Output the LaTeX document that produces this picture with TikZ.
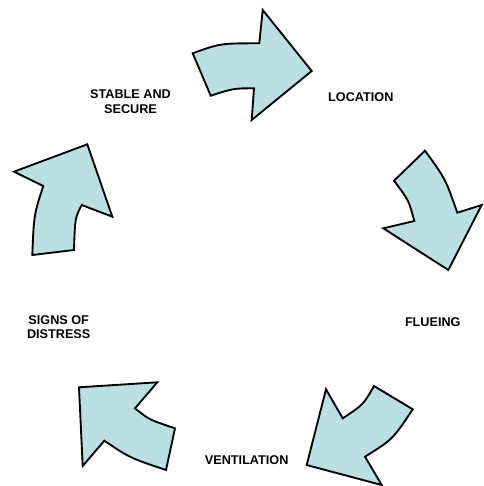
\documentclass[tikz,border=0pt]{standalone}
\usepackage{fontspec}
\setmainfont{Liberation Sans}
\usetikzlibrary{positioning}
\definecolor{cycleFill}{HTML}{BBE0E3}

\begin{document}
\begin{tikzpicture}[
  x=0.75pt, y=-0.75pt,
  font=\fontsize{9.5}{11}\selectfont\bfseries,
  bigarrow/.style={draw=black, line width=1.4pt, fill=cycleFill, line join=miter},
  stage/.style={align=center, inner sep=0pt}
]
\useasboundingbox (0,0) rectangle (483,486);

% curved block arrows, going clockwise
\draw[bigarrow] (192.7,53.3) .. controls (220.3,43.3) .. (259.3,43.3) -- (262.7,10)
  -- (311.7,71) -- (251.7,120) -- (254,88.3) .. controls (233.7,88.3) .. (210.7,95.7) -- cycle;
\draw[bigarrow] (425,150.7) .. controls (445.4,178.7) .. (457.3,212.7) -- (481.7,205)
  -- (448.3,270) -- (383.3,228.3) -- (414.3,221) .. controls (408.8,200.4) .. (394,180.7) -- cycle;
\draw[bigarrow] (374,386) -- (412.7,409.3) .. controls (392.8,439.3) .. (365,456.7)
  -- (381.7,485) -- (306.7,465) -- (326,389.3) -- (342.7,418.3) .. controls (363.3,404.7) .. cycle;
\draw[bigarrow] (175,428.3) -- (166,470) .. controls (129.7,457.8) .. (104.3,440.7)
  -- (82.7,466) -- (79,387.3) -- (157.3,382.3) -- (135,408.3) .. controls (149.2,419.7) .. cycle;
\draw[bigarrow] (32.3,255) .. controls (33.9,214.8) .. (43.3,186) -- (14,171.7)
  -- (87.3,144.3) -- (112.3,216.7) -- (81.7,205) .. controls (75,218) .. (74,250) -- cycle;

% stage labels
\node[stage] (stable) at (130.5,101.5) {STABLE AND\\SECURE};
\node[stage] (location) at (360.8,97.5) {LOCATION};
\node[stage] (flueing) at (432.8,322) {FLUEING};
\node[stage] (ventilation) at (246.7,459.8) {VENTILATION};
\node[stage] (distress) at (58.7,327.2) {SIGNS OF\\DISTRESS};
\end{tikzpicture}
\end{document}
